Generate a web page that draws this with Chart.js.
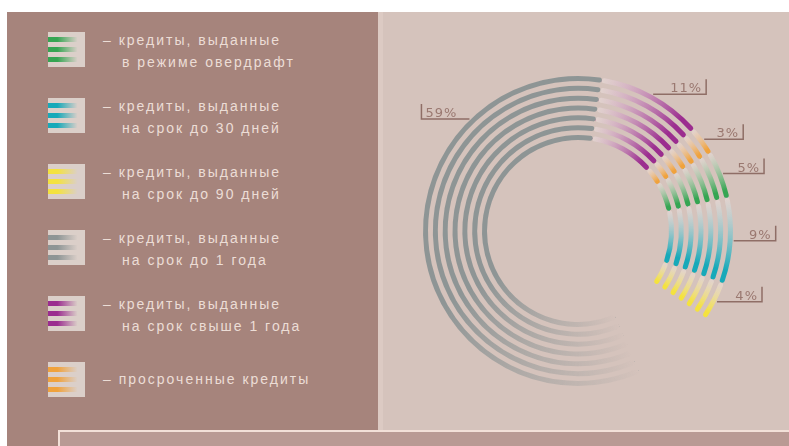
<!DOCTYPE html>
<html>
<head>
<meta charset="utf-8">
<script src="https://cdn.jsdelivr.net/npm/chart.js@4.4.1/dist/chart.umd.min.js"></script>
<style>
  body { margin: 0; width: 789px; height: 446px; background: #fff; overflow: hidden; position: relative; font-family: 'Liberation Sans', sans-serif; }
  #panel { position: absolute; left: 7px; top: 12px; width: 371px; height: 434px; background: #a6847c; }
  #right { position: absolute; left: 378px; top: 12px; width: 411px; height: 434px; background: #d5c3bc; }
  #edge { position: absolute; left: 378px; top: 12px; width: 5px; height: 434px; background: #dccac3; }
  #bottom { position: absolute; left: 58px; top: 430px; width: 731px; height: 16px; background: #b99a94; border-top: 2px solid #f2e0d8; border-left: 2px solid #f2e0d8; }
  .swatch { position: absolute; left: 48px; width: 37px; height: 35px; }
  .txt { position: absolute; left: 103px; color: #ecddd6; font-size: 14px; line-height: 22px; letter-spacing: 2px; white-space: nowrap; }
  .txt .l2 { padding-left: 19px; }
  canvas { position: absolute; left: 0; top: 0; }
</style>
</head>
<body>
<div id="panel"></div>
<div id="right"></div>
<div id="edge"></div>
<div id="bottom"></div>
<div id="legend"></div>
<canvas id="chart" width="789" height="446"></canvas>
<script>
// clockwise from the top, the last gap is the unlabelled rest (100 - 91)
const categories = ['свыше 1 года', 'просроченные', 'овердрафт', 'до 30 дней', 'до 90 дней', '', 'до 1 года'];
const shares = [11, 3, 5, 9, 4, 9, 59];
const valueLabels = ['11%', '3%', '5%', '9%', '4%', '', '59%'];
const colors = ['#9b2d8f', '#f0a23c', '#35a552', '#17a9b9', '#f4e23e', 'transparent', '#8e9595'];

// legend, top to bottom
const legendIndex = [2, 3, 4, 6, 0, 1];
const legendLines = [
    ['– кредиты, выданные', 'в режиме овердрафт'],
    ['– кредиты, выданные', 'на срок до 30 дней'],
    ['– кредиты, выданные', 'на срок до 90 дней'],
    ['– кредиты, выданные', 'на срок до 1 года'],
    ['– кредиты, выданные', 'на срок свыше 1 года'],
    ['– просроченные кредиты']
];

const rotationDeg = 9;
const ringCount = 7;

/* legend on the left panel */
const legend = document.getElementById('legend');
legendIndex.forEach(function(idx, k) {
    const top = 32 + k * 66;
    const c = colors[idx];
    const stripe = 'linear-gradient(to right, ' + c + ' 0%, ' + c + ' 25%, rgba(217,205,198,0) 80%)';
    const sw = document.createElement('div');
    sw.className = 'swatch';
    sw.style.top = top + 'px';
    sw.style.background = stripe + ' 0 5px / 100% 5px no-repeat, ' +
        stripe + ' 0 15px / 100% 5px no-repeat, ' +
        stripe + ' 0 25px / 100% 5px no-repeat, #dbcfc9';
    legend.appendChild(sw);

    const lines = legendLines[k];
    const t = document.createElement('div');
    t.className = 'txt';
    t.style.top = (lines.length > 1 ? top - 3 : top + 6) + 'px';
    t.innerHTML = '<div>' + lines[0] + '</div>' + (lines[1] ? '<div class="l2">' + lines[1] + '</div>' : '');
    legend.appendChild(t);
});

// each segment fades in clockwise
function ringColor(context) {
    const i = context.dataIndex;
    const chart = context.chart;
    if (i === undefined || colors[i] === 'transparent') return 'transparent';
    if (!chart.chartArea) return colors[i];
    const total = shares.reduce((a, b) => a + b, 0);
    const before = shares.slice(0, i).reduce((a, b) => a + b, 0);
    const start = -Math.PI / 2 + rotationDeg * Math.PI / 180 + before / total * 2 * Math.PI;
    const frac = shares[i] / total;
    const area = chart.chartArea;
    const g = chart.ctx.createConicGradient(start, (area.left + area.right) / 2, (area.top + area.bottom) / 2);
    if (i === 6) {
        g.addColorStop(0, 'rgba(142,149,149,0)');
        g.addColorStop(frac * 0.4, colors[i]);
        g.addColorStop(1, colors[i]);
    } else {
        g.addColorStop(0, 'rgba(238,226,224,0.5)');
        g.addColorStop(frac * 0.85, colors[i]);
        g.addColorStop(1, colors[i]);
    }
    return g;
}

const datasets = [];
for (let r = 0; r < ringCount; r++) {
    datasets.push({ data: shares, backgroundColor: ringColor, weight: 5, borderWidth: 0, borderRadius: 2.5 });
    if (r < ringCount - 1) {
        datasets.push({ data: shares, backgroundColor: 'transparent', weight: 4.8, borderWidth: 0 });
    }
}

const shareLabels = {
    id: 'shareLabels',
    afterDatasetsDraw(chart, args, opts) {
        const meta = chart.getDatasetMeta(0);
        const c = chart.ctx;
        c.save();
        c.strokeStyle = '#8f6e66';
        c.lineWidth = 1.5;
        c.fillStyle = '#9a7870';
        c.font = '13px "DejaVu Sans"';
        c.letterSpacing = '1px';
        c.textBaseline = 'alphabetic';
        meta.data.forEach(function(arc, i) {
            if (!valueLabels[i]) return;
            const p = arc.getProps(['x', 'y', 'startAngle', 'endAngle', 'outerRadius'], true);
            const a = p.startAngle + (p.endAngle - p.startAngle) * opts.anchorAt[i];
            const ax = p.x + Math.cos(a) * (p.outerRadius + 1);
            const ay = p.y + Math.sin(a) * (p.outerRadius + 1);
            const side = Math.cos(a) >= 0 ? 1 : -1;
            const ex = ax + side * opts.lengths[i];
            c.beginPath();
            c.moveTo(ax, ay);
            c.lineTo(ex, ay);
            c.lineTo(ex, ay - 15);
            c.stroke();
            c.textAlign = side > 0 ? 'right' : 'left';
            c.fillText(valueLabels[i], ex - side * 4, ay - 2);
        });
        c.restore();
    }
};

const ctx = document.getElementById('chart').getContext('2d');
const myChart = new Chart(ctx, {
    type: 'doughnut',
    data: {
        labels: categories,
        datasets: datasets
    },
    options: {
        responsive: false,
        animation: false,
        devicePixelRatio: 1,
        events: [],
        rotation: rotationDeg,
        radius: 155,
        cutout: '58.7%',
        layout: { padding: { left: 400, right: 33, top: 24, bottom: 8 } },
        plugins: {
            legend: { display: false },
            tooltip: { enabled: false },
            shareLabels: {
                anchorAt: [0.5, 0.5, 0.5, 0.5, 0.5, 0.5, 0.75],
                lengths: [53, 39, 41, 42, 45, 0, 48]
            }
        }
    },
    plugins: [shareLabels]
});
</script>
</body>
</html>
